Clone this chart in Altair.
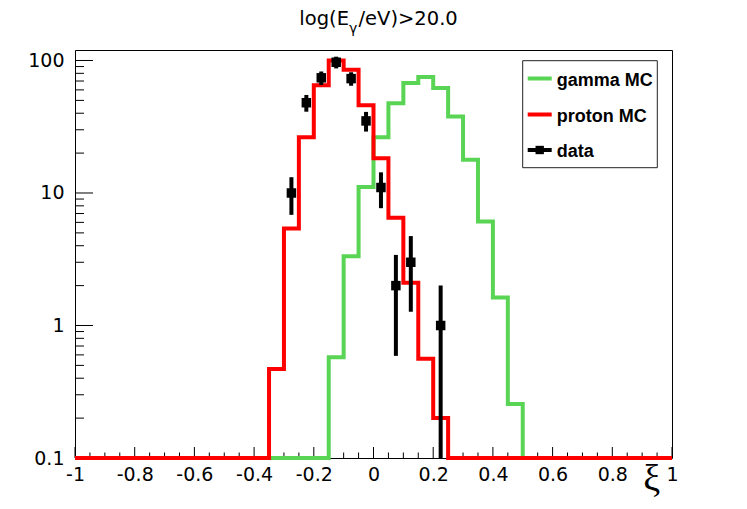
import altair as alt
import pandas as pd

# ---------------- data ----------------
bin_edges = [round(-1.0 + 0.05 * i, 2) for i in range(41)]

gamma_mc = [0, 0, 0, 0, 0, 0, 0, 0, 0, 0,
            0, 0, 0, 0, 0, 0, 0, 0.575, 3.33, 11.1,
            26.4, 47.6, 67.5, 75.0, 62.0, 37.8, 17.8, 6.1, 1.63, 0.256,
            0, 0, 0, 0, 0, 0, 0, 0, 0, 0]

proton_mc = [0, 0, 0, 0, 0, 0, 0, 0, 0, 0,
             0, 0, 0, 0.47, 5.4, 26.4, 65.0, 100.0, 85.0, 46.0,
             18.3, 6.5, 2.1, 0.56, 0.20, 0, 0, 0, 0, 0,
             0, 0, 0, 0, 0, 0, 0, 0, 0, 0]

data_x = [-0.275, -0.225, -0.175, -0.125, -0.075, -0.025, 0.025, 0.075, 0.125, 0.225]
data_n = [10, 48, 74, 97, 73, 35, 11, 2, 3, 1]
data_err = [3.16, 6.93, 8.60, 9.85, 8.54, 5.92, 3.32, 1.41, 1.73, 1.00]

x_tick_labels = [-1, -0.8, -0.6, -0.4, -0.2, 0, 0.2, 0.4, 0.6, 0.8, 1]
y_tick_labels = [0.1, 1, 10, 100]
x_ticks = [round(0.05 * i, 2) for i in range(-20, 21)]
x_major = [i % 4 == 0 for i in range(-20, 21)]
y_mults = [1, 2, 3, 4, 5, 6, 7, 8, 9]
y_ticks = [m * 10 ** e for e in (-1, 0, 1, 2) for m in y_mults if m * 10 ** e <= 120]
y_major = [m == 1 for e in (-1, 0, 1, 2) for m in y_mults if m * 10 ** e <= 120]

title_parts = ["log(E", "\u03b3", "/eV)>20.0"]
legend_labels = ["gamma MC", "proton MC", "data"]

W, H = 597, 408
GREEN = "#59d454"
RED = "#ff0000"

# ---------------- frames ----------------
hist_df = pd.DataFrame({
    "x": bin_edges,
    "gamma": gamma_mc + [gamma_mc[-1]],
    "proton": proton_mc + [proton_mc[-1]],
})
pts_df = pd.DataFrame({"x": data_x, "n": data_n, "err": data_err})
xt_df = pd.DataFrame({"x": x_ticks, "major": x_major})
yt_df = pd.DataFrame({"y": y_ticks, "major": y_major})
one = pd.DataFrame({"a": [0]})

xs = alt.Scale(domain=[-1, 1], nice=False, zero=False)
ys = alt.Scale(type="log", domain=[0.1, 120], nice=False, zero=False)

x_axis = alt.Axis(values=x_tick_labels, labelExpr="datum.value + ''", ticks=False, tickSize=0,
                  domain=False, grid=False, title=None, labelFont="DejaVu Sans",
                  labelFontSize=19, labelColor="black", labelPadding=7, labelFlush=False,
                  labelOverlap=False)
y_axis = alt.Axis(values=y_tick_labels, labelExpr="datum.value + ''", ticks=False, tickSize=0,
                  domain=False, grid=False, title=None, labelFont="DejaVu Sans",
                  labelFontSize=19, labelColor="black", labelPadding=11, labelFlush=False,
                  labelOverlap=False)

X = lambda f: alt.X(f, type="quantitative", scale=xs, axis=x_axis)
Y = lambda f: alt.Y(f, type="quantitative", scale=ys, axis=y_axis)

# ticks inside the frame
xt_major = alt.Chart(xt_df).transform_filter("datum.major").mark_rule(color="black", strokeWidth=1).encode(
    x=X("x"), y=alt.value(H), y2=alt.value(H - 11))
xt_minor = alt.Chart(xt_df).transform_filter("!datum.major").mark_rule(color="black", strokeWidth=1).encode(
    x=X("x"), y=alt.value(H), y2=alt.value(H - 5.5))
yt_major = alt.Chart(yt_df).transform_filter("datum.major").mark_rule(color="black", strokeWidth=1).encode(
    y=Y("y"), x=alt.value(0), x2=alt.value(18))
yt_minor = alt.Chart(yt_df).transform_filter("!datum.major").mark_rule(color="black", strokeWidth=1).encode(
    y=Y("y"), x=alt.value(0), x2=alt.value(9))

green = alt.Chart(hist_df).transform_calculate(v="max(datum.gamma, 0.1)").mark_line(
    interpolate="step-after", color=GREEN, strokeWidth=4).encode(x=X("x"), y=Y("v"))
red = alt.Chart(hist_df).transform_calculate(v="max(datum.proton, 0.1)").mark_line(
    interpolate="step-after", color=RED, strokeWidth=4).encode(x=X("x"), y=Y("v"))

errbars = alt.Chart(pts_df).transform_calculate(
    lo="max(datum.n - datum.err, 0.1)", hi="datum.n + datum.err").mark_rule(
    color="black", strokeWidth=4).encode(x=X("x"), y=Y("lo"), y2="hi:Q")
squares = alt.Chart(pts_df).mark_square(size=90, color="black", opacity=1, filled=True).encode(
    x=X("x"), y=Y("n"))

# legend
leg_box = alt.Chart(one).mark_rect(fill="white", stroke="#222222", strokeWidth=1).encode(
    x=alt.value(447.7), x2=alt.value(582.3), y=alt.value(10.7), y2=alt.value(117.7))
leg_layers = [leg_box]
for lbl, col, yy in zip(legend_labels, [GREEN, RED, "black"], [28.5, 64.5, 100]):
    leg_layers.append(alt.Chart(one).mark_rule(color=col, strokeWidth=4).encode(
        x=alt.value(452.7), x2=alt.value(476.7), y=alt.value(yy)))
    leg_layers.append(alt.Chart(one).mark_text(
        text=lbl, align="left", baseline="alphabetic", font="Liberation Sans",
        fontWeight="bold", fontSize=18, color="black").encode(
        x=alt.value(481.7), y=alt.value(yy + 7)))
leg_layers.append(alt.Chart(one).mark_square(size=70, color="black", opacity=1, filled=True).encode(
    x=alt.value(464.7), y=alt.value(100)))

# title pieces
t1 = alt.Chart(one).mark_text(text=title_parts[0], align="right", baseline="alphabetic",
                              font="DejaVu Sans", fontSize=19.5, color="black").encode(
    x=alt.value(274), y=alt.value(-25.5))
t2 = alt.Chart(one).mark_text(text=title_parts[1], align="left", baseline="alphabetic",
                              font="DejaVu Sans", fontSize=14, color="black").encode(
    x=alt.value(274), y=alt.value(-17))
t3 = alt.Chart(one).mark_text(text=title_parts[2], align="left", baseline="alphabetic",
                              font="DejaVu Sans", fontSize=19.5, color="black").encode(
    x=alt.value(283.5), y=alt.value(-25.5))

xi = alt.Chart(one).mark_text(text="\u03be", align="center", baseline="alphabetic",
                              font="Liberation Serif", fontSize=38, color="black").encode(
    x=alt.value(576.7), y=alt.value(441))

chart = alt.layer(
    xt_major, xt_minor, yt_major, yt_minor,
    green, red, errbars, squares,
    *leg_layers, t1, t2, t3, xi,
).properties(
    width=W, height=H,
    autosize=alt.AutoSizeParams(type="none"),
    padding={"left": 67, "top": 42, "right": 60, "bottom": 43},
    background="white",
).configure_view(stroke="black", strokeWidth=1)

chart.save("out.html", embed_options={"renderer": "svg", "actions": False})
